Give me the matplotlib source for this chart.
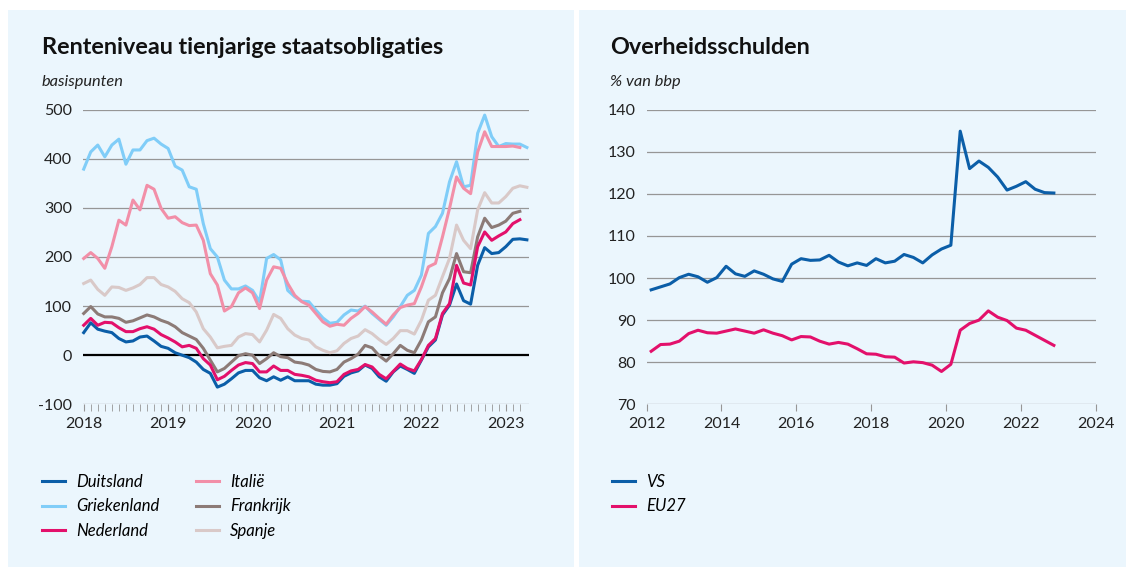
import numpy as np
import matplotlib
matplotlib.use("Agg")
import matplotlib.pyplot as plt
from matplotlib.patches import Rectangle

plt.rcParams['font.family'] = ['Lato', 'DejaVu Sans']
plt.rcParams['axes.unicode_minus'] = False

# --- left chart: 10-year government bond yields, monthly from Jan 2018 (basis points)
years_left = [2018, 2019, 2020, 2021, 2022, 2023]

duitsland = [46, 66, 53, 49, 46, 34, 27, 29, 37, 39, 29, 18, 14, 5, 0, -5, -14, -29, -37, -65,
             -59, -48, -36, -31, -31, -46, -52, -44, -51, -44, -52, -52, -52, -59, -61, -61, -58, -43,
             -36, -32, -20, -27, -44, -53, -34, -22, -29, -37, -10, 17, 31, 82, 102, 145, 111, 104,
             183, 219, 207, 209, 221, 236, 237, 235]
griekenland = [379, 414, 428, 404, 428, 440, 389, 418, 418, 437, 442, 430, 421, 385, 377, 343, 338,
               268, 217, 200, 153, 135, 135, 141, 132, 109, 197, 205, 194, 132, 119, 110, 109, 92,
               76, 65, 67, 82, 92, 90, 100, 85, 73, 61, 78, 99, 122, 132, 163, 248, 262, 289, 353,
               394, 343, 346, 452, 489, 445, 425, 431, 430, 430, 423]
nederland = [61, 75, 61, 67, 66, 56, 48, 48, 54, 58, 53, 42, 35, 27, 17, 20, 14, -7, -20, -50,
             -43, -31, -20, -15, -17, -34, -34, -22, -31, -31, -39, -41, -44, -51, -54, -56, -54,
             -39, -32, -29, -19, -24, -39, -48, -33, -18, -27, -32, -9, 20, 34, 85, 105, 183, 147,
             143, 221, 251, 234, 243, 251, 268, 276]
italie = [197, 209, 197, 177, 221, 275, 265, 316, 296, 346, 338, 299, 279, 282, 270, 264, 265, 234,
          166, 143, 90, 99, 127, 137, 127, 95, 153, 180, 177, 146, 122, 109, 102, 85, 68, 59, 63,
          61, 75, 85, 99, 88, 75, 63, 82, 97, 102, 105, 139, 180, 187, 241, 299, 363, 340, 329,
          414, 455, 425, 425, 425, 426, 423]
frankrijk = [85, 99, 84, 78, 78, 75, 67, 70, 76, 82, 78, 71, 66, 58, 46, 39, 32, 14, -10, -34, -27,
             -14, -1, 3, 0, -17, -7, 5, -3, -5, -14, -16, -20, -29, -33, -34, -29, -14, -7, 2, 20,
             15, -1, -12, 3, 20, 10, 5, 31, 68, 78, 127, 156, 207, 170, 168, 241, 279, 260, 265,
             273, 289, 293]
spanje = [146, 153, 134, 122, 139, 138, 132, 137, 144, 158, 158, 144, 139, 130, 115, 107, 88, 54,
          37, 15, 18, 20, 37, 44, 42, 27, 51, 83, 75, 54, 41, 34, 31, 17, 10, 5, 9, 24, 34, 39, 52,
          44, 32, 22, 34, 50, 50, 43, 71, 112, 122, 160, 197, 265, 234, 217, 296, 331, 310, 310,
          323, 340, 345, 342]

# --- right chart: government debt, quarterly 2012Q1 - 2022Q4 (% of GDP)
first_quarter = 2012.125
vs = [97.2, 97.9, 98.6, 100.1, 100.9, 100.3, 99.0, 100.1, 102.8, 101.0, 100.4, 101.7, 100.9, 99.8,
      99.2, 103.3, 104.6, 104.2, 104.3, 105.4, 103.8, 102.9, 103.6, 103.0, 104.6, 103.6, 104.0,
      105.6, 104.9, 103.6, 105.5, 106.9, 107.8, 134.9, 126.0, 127.8, 126.3, 124.0, 120.9, 121.8,
      122.9, 121.1, 120.3, 120.2]
eu27 = [82.6, 84.2, 84.3, 85.0, 86.8, 87.6, 87.0, 86.9, 87.4, 87.9, 87.4, 86.9, 87.7, 86.9, 86.3,
        85.3, 86.1, 86.0, 85.0, 84.3, 84.7, 84.3, 83.2, 82.0, 81.9, 81.3, 81.2, 79.8, 80.1, 79.9,
        79.3, 77.8, 79.5, 87.6, 89.2, 90.0, 92.2, 90.7, 89.9, 88.1, 87.6, 86.4, 85.2, 84.0]

DARK_BLUE = '#0b5ea8'
LIGHT_BLUE = '#80cdf8'
MAGENTA = '#e3106b'
PINK = '#f28fa8'
TAUPE = '#8c7b77'
BEIGE = '#d9c9c8'
PANEL = '#ebf6fd'
GRID = '#969696'

W, H = 1132, 572
fig = plt.figure(figsize=(W / 100, H / 100), dpi=100)
fig.patch.set_facecolor('white')


def px_rect(x0, y0, x1, y1):
    # pixel box (top-left origin) -> figure fraction [left, bottom, width, height]
    return [x0 / W, 1 - y1 / H, (x1 - x0) / W, (y1 - y0) / H]


for x0, x1 in [(8, 574), (579, 1126)]:
    l, b, w, h = px_rect(x0, 10, x1, 567)
    fig.patches.append(Rectangle((l, b), w, h, transform=fig.transFigure,
                                 facecolor=PANEL, edgecolor='none', zorder=-5))


def style_axes(ax, yticks):
    ax.set_facecolor('none')
    for s in ax.spines.values():
        s.set_visible(False)
    for y in yticks:
        if y == 0:
            ax.axhline(y, color='black', lw=1.6, zorder=1)
        else:
            ax.axhline(y, color=GRID, lw=0.9, zorder=1)
    ax.set_yticks(yticks)
    ax.tick_params(axis='y', length=0, pad=8, labelsize=11.5, labelcolor='#222222')
    ax.tick_params(axis='x', which='both', direction='out', length=5, color=GRID,
                   labelsize=11.5, labelcolor='#222222', pad=4)


# ---------------- left panel
ax1 = fig.add_axes(px_rect(83, 109.7, 529, 404.3))
series = [
    ('Duitsland', duitsland, DARK_BLUE, 5),
    ('Griekenland', griekenland, LIGHT_BLUE, 4),
    ('Nederland', nederland, MAGENTA, 6),
    ('Italië', italie, PINK, 5),
    ('Frankrijk', frankrijk, TAUPE, 3),
    ('Spanje', spanje, BEIGE, 2),
]
handles = []
for name, vals, col, z in series:
    ln, = ax1.plot(np.arange(len(vals)), vals, color=col, lw=2.2, label=name, zorder=z,
                   clip_on=False)
    handles.append(ln)
ax1.set_ylim(-100, 500)
ax1.set_xlim(-0.1, 63.3)
style_axes(ax1, [-100, 0, 100, 200, 300, 400, 500])
ax1.set_xticks([12 * i for i in range(len(years_left))])
ax1.set_xticklabels([str(y) for y in years_left])
ax1.set_xticks(np.arange(0, 63), minor=True)

fig.text(42 / W, 1 - 48 / H, 'Renteniveau tienjarige staatsobligaties', fontsize=16.8,
         fontweight='bold', va='center', ha='left', color='#111111')
fig.text(42 / W, 1 - 82 / H, 'basispunten', fontsize=11.8, style='italic',
         va='center', ha='left', color='#222222')

fig.legend(handles=handles, ncol=2, loc='upper left',
           bbox_to_anchor=(27 / W, 1 - 459 / H), bbox_transform=fig.transFigure,
           frameon=False, prop={'style': 'italic', 'size': 12},
           handlelength=1.4, handletextpad=0.65, columnspacing=2.2, labelspacing=0.5)

# ---------------- right panel
ax2 = fig.add_axes(px_rect(646.5, 109.7, 1096, 404.3))
q = first_quarter + 0.25 * np.arange(len(vs))
h_vs, = ax2.plot(q, vs, color=DARK_BLUE, lw=2.2, label='VS', zorder=4)
h_eu, = ax2.plot(q, eu27, color=MAGENTA, lw=2.2, label='EU27', zorder=4)
ax2.set_ylim(70, 140)
ax2.set_xlim(2012, 2024)
style_axes(ax2, [70, 80, 90, 100, 110, 120, 130, 140])
ax2.set_xticks(range(2012, 2025, 2))

fig.text(610 / W, 1 - 48 / H, 'Overheidsschulden', fontsize=16.8,
         fontweight='bold', va='center', ha='left', color='#111111')
fig.text(610 / W, 1 - 82 / H, '% van bbp', fontsize=11.8, style='italic',
         va='center', ha='left', color='#222222')

fig.legend(handles=[h_vs, h_eu], loc='upper left',
           bbox_to_anchor=(597 / W, 1 - 459 / H), bbox_transform=fig.transFigure,
           frameon=False, prop={'style': 'italic', 'size': 12},
           handlelength=1.4, handletextpad=0.65, labelspacing=0.5)

fig.savefig('out.png', dpi=100, facecolor=fig.get_facecolor())
